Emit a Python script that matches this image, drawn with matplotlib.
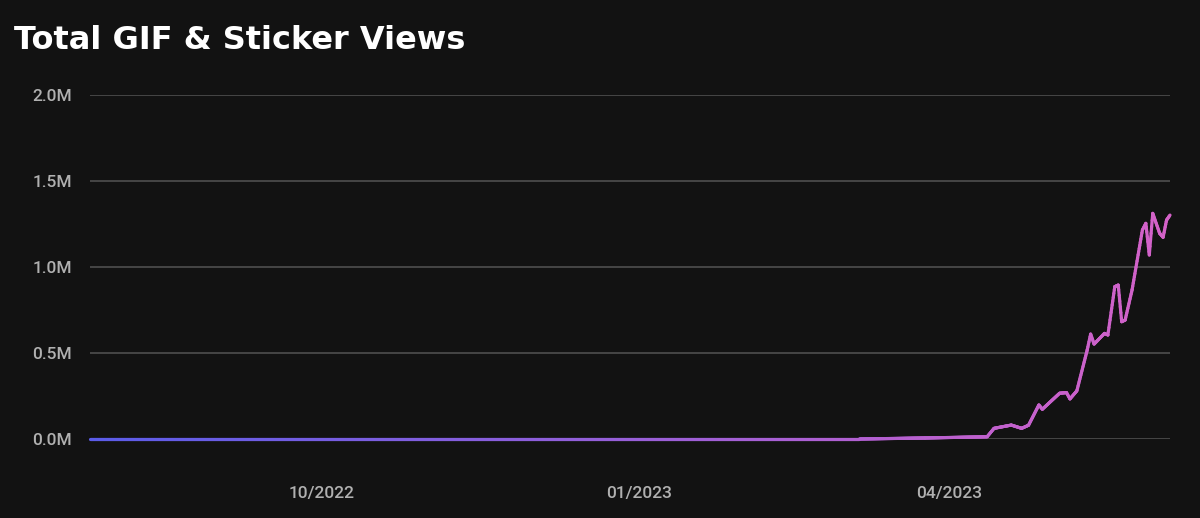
import matplotlib
matplotlib.use("Agg")
import matplotlib.pyplot as plt
import matplotlib.dates as mdates
import numpy as np
import pandas as pd
from matplotlib.collections import LineCollection
from matplotlib.colors import LinearSegmentedColormap
from matplotlib.ticker import FuncFormatter

# Data (views, millions)
dates = [
    "2022-07-26", "2022-10-01", "2023-01-01", "2023-03-06", "2023-03-25",
    "2023-04-12", "2023-04-14", "2023-04-19", "2023-04-22", "2023-04-24",
    "2023-04-27", "2023-04-28", "2023-05-03", "2023-05-05", "2023-05-06",
    "2023-05-08", "2023-05-11", "2023-05-12", "2023-05-13", "2023-05-16",
    "2023-05-17", "2023-05-19", "2023-05-20", "2023-05-21", "2023-05-22",
    "2023-05-24", "2023-05-27", "2023-05-28", "2023-05-29", "2023-05-30",
    "2023-06-01", "2023-06-02", "2023-06-03", "2023-06-04",
]
views_m = [
    0.0, 0.0, 0.0, 0.0, 0.006,
    0.013, 0.062, 0.081, 0.062, 0.080,
    0.198, 0.173, 0.266, 0.270, 0.233,
    0.280, 0.517, 0.610, 0.552, 0.614,
    0.605, 0.886, 0.895, 0.682, 0.692,
    0.866, 1.215, 1.254, 1.070, 1.312,
    1.196, 1.173, 1.273, 1.302,
]
xtick_dates = ["2022-10-01", "2023-01-01", "2023-04-01"]
xtick_labels = ["10/2022", "01/2023", "04/2023"]
ytick_values = [0, 0.5e6, 1.0e6, 1.5e6, 2.0e6]

bg = "#121212"
x = mdates.date2num(pd.to_datetime(dates))
y = np.array(views_m) * 1e6

fig = plt.figure(figsize=(12, 5.18), dpi=100, facecolor=bg)
ax = fig.add_axes([0.075, 0.1525, 0.9, 0.664], facecolor=bg)

# gradient line, blue on the left to pink on the right
xs = np.union1d(np.linspace(x[0], x[-1], 2000), x)
ys = np.interp(xs, x, y)
pts = np.column_stack([xs, ys]).reshape(-1, 1, 2)
segs = np.concatenate([pts[:-1], pts[1:]], axis=1)
cmap = LinearSegmentedColormap.from_list("gp", ["#5b5ce8", "#d462c8"])
lc = LineCollection(segs, cmap=cmap, linewidth=2.3, capstyle="round", joinstyle="round")
lc.set_array((xs[:-1] - x[0]) / (x[-1] - x[0]))
lc.set_clip_on(False)
lc.set_zorder(3)
ax.add_collection(lc)

ax.set_xlim(x[0], x[-1])
ax.set_ylim(0, 2.0e6)

ax.set_yticks(ytick_values)
ax.yaxis.set_major_formatter(FuncFormatter(lambda v, p: f"{v / 1e6:.1f}M"))
ax.set_xticks(mdates.date2num(pd.to_datetime(xtick_dates)))
ax.set_xticklabels(xtick_labels)

ax.grid(axis="y", color="#4a4a4a", linewidth=1.3)
ax.set_axisbelow(True)
for s in ax.spines.values():
    s.set_visible(False)
ax.tick_params(axis="both", length=0, colors="#b0b0b0", labelsize=12.5)
ax.tick_params(axis="y", pad=13)
ax.tick_params(axis="x", pad=34)
for lab in ax.get_xticklabels() + ax.get_yticklabels():
    lab.set_fontfamily("Roboto")
    lab.set_fontweight("medium")

fig.text(0.012, 0.922, "Total GIF & Sticker Views", color="white",
         fontsize=23, fontweight="bold", family="DejaVu Sans", va="center", ha="left")

fig.savefig("out.png", dpi=100, facecolor=bg)
